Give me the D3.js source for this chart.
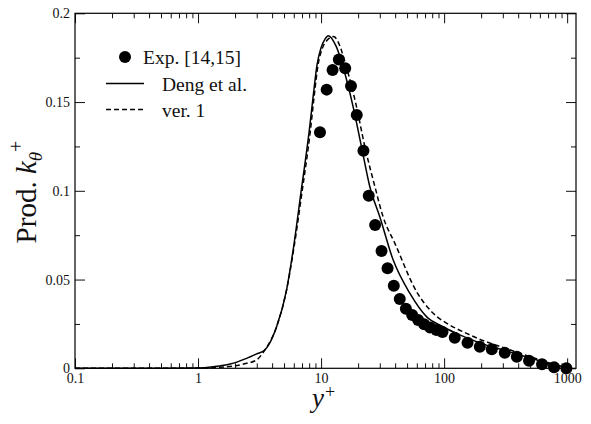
<!DOCTYPE html>
<meta charset="utf-8">
<head>
    <script type="text/javascript" src="https://d3js.org/d3.v7.min.js"></script>
    <style>
        body { margin: 0; background: white; }
        svg text { font-family: "Liberation Serif", "Times New Roman", serif; fill: #111; }
        .tick text { font-size: 14px; }
        .tick line { stroke: #111; stroke-width: 1; }
        .curve { fill: none; stroke: #000; stroke-width: 1.5; }
    </style>
    <title>Prod. k_theta+</title>
</head>
<body>
<div id="chart"></div>
<script>
    var w = 591, h = 424;

    // experimental points
    var expX = [9.8, 11.1, 12.4, 13.95, 15.7, 17.5, 19.5, 22.1, 24.4, 27.5, 31.0, 34.7, 39.0, 43.6, 48.9,
                55, 61.5, 68.8, 77, 86.7, 97, 122, 155, 195, 244, 311, 390, 490, 625, 783, 986];
    var expY = [0.133, 0.157, 0.168, 0.174, 0.169, 0.159, 0.1427, 0.1226, 0.0972, 0.0807, 0.0661, 0.0563, 0.0465, 0.039, 0.0336,
                0.030, 0.0272, 0.0248, 0.023, 0.0216, 0.0205, 0.0172, 0.0144, 0.0122, 0.0107, 0.0088, 0.0065, 0.0043, 0.0023, 0.0006, 0.0];

    // Deng et al. (solid)
    var dengX = [0.1, 0.5, 1.0, 1.33, 1.82, 2.48, 2.99, 3.49, 4.35, 5.24, 5.93, 6.87, 8.03, 8.65, 9.27, 9.98, 10.76, 11.45,
                 13.3, 15.6, 18.2, 21.3, 24.9, 30.0, 38.5, 52.6, 71.9, 98, 134, 195, 311, 497, 793, 1000];
    var dengY = [0, 0.00002, 0.0002, 0.0009, 0.0024, 0.0056, 0.0081, 0.0103, 0.0234, 0.0441, 0.0667, 0.0993, 0.1343, 0.154, 0.1709, 0.1805, 0.1855, 0.1874,
                 0.1812, 0.1662, 0.1474, 0.1248, 0.1023, 0.0854, 0.0611, 0.0423, 0.0291, 0.0234, 0.0188, 0.0143, 0.0100, 0.0058, 0.0019, 0.0005];

    // ver. 1 (dashed)
    var ver1X = [0.1, 0.5, 1.0, 1.93, 2.48, 2.99, 3.49, 4.35, 5.24, 5.98, 7.0, 8.2, 8.81, 9.45, 10.26, 11.1, 12.6,
                 16.6, 19.4, 22.7, 27.4, 31.9, 39.8, 59.7, 81.5, 111, 152, 188, 311, 497, 793, 1000];
    var ver1Y = [0, 0.00001, 0.0001, 0.0013, 0.0028, 0.0047, 0.0103, 0.0234, 0.0441, 0.0667, 0.0993, 0.1343, 0.154, 0.1709, 0.1805, 0.1845, 0.1869,
                 0.1662, 0.1474, 0.1248, 0.1023, 0.0854, 0.0704, 0.0432, 0.031, 0.0244, 0.0197, 0.0168, 0.0114, 0.0066, 0.0021, 0.0005];

    var xMajor = [0.1, 1, 10, 100, 1000];
    var xTickLabels = ["0.1", "1", "10", "100", "1000"];
    var yMajor = [0, 0.05, 0.1, 0.15, 0.2];
    var yTickLabels = ["0", "0.05", "0.1", "0.15", "0.2"];
    var yMinor = [0.025, 0.075, 0.125, 0.175];
    var legendLabels = ["Exp. [14,15]", "Deng et al.", "ver. 1"];

    var xMinor = [];
    [0.1, 1, 10, 100].forEach(function(d) {
        for (var k = 2; k <= 9; k++) xMinor.push(d * k);
    });

    var plotL = 75, plotR = 576, plotT = 13.3, plotB = 368.3;

    var svg = d3.select("#chart").append("svg")
        .attr("width", w).attr("height", h);

    var x = d3.scaleLog().domain([0.1, 1180]).range([plotL, plotR]);
    var y = d3.scaleLinear().domain([0, 0.2]).range([plotB, plotT]);

    function axis(gen, vals, size, labels, tx, ty) {
        var a = gen.tickValues(vals).tickSize(-size).tickPadding(labels ? 5 : 0)
            .tickFormat(labels ? function(d, i) { return labels[i]; } : "");
        var g = svg.append("g").attr("transform", "translate(" + tx + "," + ty + ")").call(a);
        g.select(".domain").remove();
        return g;
    }

    axis(d3.axisBottom(x), xMajor, 10, xTickLabels, 0, plotB);
    axis(d3.axisBottom(x), xMinor, 5, null, 0, plotB);
    axis(d3.axisTop(x), xMajor, 10, null, 0, plotT);
    axis(d3.axisTop(x), xMinor, 5, null, 0, plotT);
    axis(d3.axisLeft(y), yMajor, 10, yTickLabels, plotL, 0);
    axis(d3.axisLeft(y), yMinor, 5, null, plotL, 0);
    axis(d3.axisRight(y), yMajor, 10, null, plotR, 0);
    axis(d3.axisRight(y), yMinor, 5, null, plotR, 0);

    svg.append("rect")
        .attr("x", plotL).attr("y", plotT)
        .attr("width", plotR - plotL).attr("height", plotB - plotT)
        .attr("fill", "none").attr("stroke", "#000").attr("stroke-width", 1.2);

    var line = d3.line()
        .x(function(d) { return x(d[0]); })
        .y(function(d) { return y(d[1]); })
        .curve(d3.curveMonotoneX);

    svg.append("path").attr("class", "curve")
        .attr("d", line(dengX.map(function(d, i) { return [d, dengY[i]]; })));
    svg.append("path").attr("class", "curve")
        .attr("stroke-dasharray", "5,3")
        .attr("d", line(ver1X.map(function(d, i) { return [d, ver1Y[i]]; })));

    svg.append("g").selectAll("circle")
        .data(expX.map(function(d, i) { return [d, expY[i]]; }))
        .enter().append("circle")
        .attr("cx", function(d) { return x(d[0]); })
        .attr("cy", function(d) { return y(d[1]); })
        .attr("r", 6)
        .attr("fill", "#000");

    // legend
    var lg = svg.append("g").attr("font-size", "19.5px");
    lg.append("circle").attr("cx", 125).attr("cy", 57).attr("r", 6).attr("fill", "#000");
    lg.append("line").attr("x1", 106).attr("x2", 144).attr("y1", 83.5).attr("y2", 83.5)
        .attr("stroke", "#000").attr("stroke-width", 1.5);
    lg.append("line").attr("x1", 106).attr("x2", 144).attr("y1", 109.5).attr("y2", 109.5)
        .attr("stroke", "#000").attr("stroke-width", 1.5).attr("stroke-dasharray", "5,3");
    lg.append("text").attr("x", 143).attr("y", 63.5).text(legendLabels[0]);
    lg.append("text").attr("x", 162).attr("y", 90.5).text(legendLabels[1]);
    lg.append("text").attr("x", 162).attr("y", 116.5).text(legendLabels[2]);

    // axis titles
    var xt = svg.append("text").attr("x", 312).attr("y", 407).attr("font-size", "27px");
    xt.append("tspan").attr("font-style", "italic").text("y");
    xt.append("tspan").attr("font-size", "18px").attr("dx", 1).attr("dy", -9).text("+");

    var yt = svg.append("text")
        .attr("transform", "translate(36," + 192 + ") rotate(-90)")
        .attr("text-anchor", "middle")
        .attr("font-size", "29px");
    yt.append("tspan").text("Prod. ");
    yt.append("tspan").attr("font-style", "italic").text("k");
    yt.append("tspan").attr("font-style", "italic").attr("font-size", "19px").attr("dy", 6).text("θ");
    yt.append("tspan").attr("font-size", "20px").attr("dy", -19).text("+");
</script>
</body>
</html>
